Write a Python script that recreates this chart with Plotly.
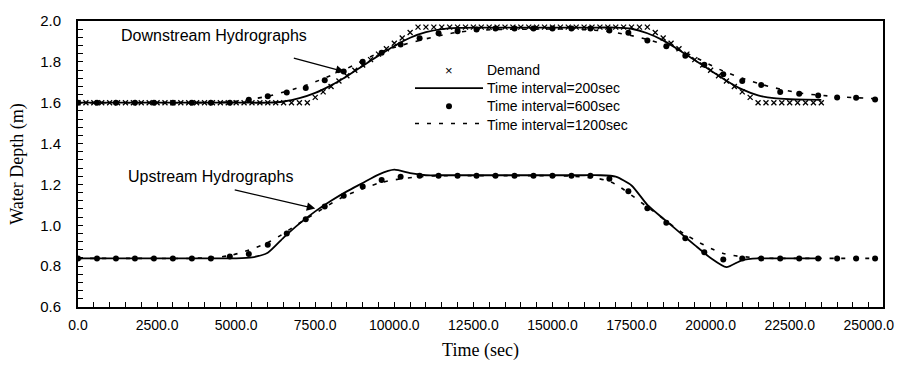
import plotly.graph_objects as go

# ---------------- data ----------------
# Demand (downstream), sampled every 250 s
demand_t = [0, 250, 500, 750, 1000, 1250, 1500, 1750, 2000, 2250, 2500, 2750, 3000, 3250,
            3500, 3750, 4000, 4250, 4500, 4750, 5000, 5250, 5500, 5750, 6000, 6250, 6500,
            6750, 7000, 7250, 7500, 7750, 8000, 8250, 8500, 8750, 9000, 9250, 9500, 9750,
            10000, 10250, 10500, 10750, 11000, 11250, 11500, 11750, 12000, 12250, 12500,
            12750, 13000, 13250, 13500, 13750, 14000, 14250, 14500, 14750, 15000, 15250,
            15500, 15750, 16000, 16250, 16500, 16750, 17000, 17250, 17500, 17750, 18000,
            18250, 18500, 18750, 19000, 19250, 19500, 19750, 20000, 20250, 20500, 20750,
            21000, 21250, 21500, 21750, 22000, 22250, 22500, 22750, 23000, 23250, 23500]
demand_y = [1.60, 1.60, 1.60, 1.60, 1.60, 1.60, 1.60, 1.60, 1.60, 1.60, 1.60, 1.60, 1.60, 1.60,
            1.60, 1.60, 1.60, 1.60, 1.60, 1.60, 1.60, 1.60, 1.60, 1.60, 1.60, 1.60, 1.60,
            1.60, 1.60, 1.60, 1.626, 1.653, 1.679, 1.706, 1.732, 1.759, 1.785, 1.811, 1.838, 1.864,
            1.891, 1.917, 1.944, 1.970, 1.97, 1.97, 1.97, 1.97, 1.97, 1.97, 1.97,
            1.97, 1.97, 1.97, 1.97, 1.97, 1.97, 1.97, 1.97, 1.97, 1.97, 1.97,
            1.97, 1.97, 1.97, 1.97, 1.97, 1.97, 1.97, 1.97, 1.97, 1.97, 1.97,
            1.944, 1.917, 1.891, 1.864, 1.838, 1.811, 1.785, 1.759, 1.732, 1.706, 1.679,
            1.653, 1.626, 1.600, 1.60, 1.60, 1.60, 1.60, 1.60, 1.60, 1.60, 1.60]

# Time interval = 200 sec (solid lines), every 500 s
t200 = [0, 500, 1000, 1500, 2000, 2500, 3000, 3500, 4000, 4500, 5000, 5500, 6000, 6500,
        7000, 7500, 8000, 8500, 9000, 9500, 10000, 10500, 11000, 11500, 12000, 12500,
        13000, 13500, 14000, 14500, 15000, 15500, 16000, 16500, 17000, 17500, 18000,
        18500, 19000, 19500, 20000, 20500, 21000, 21500, 22000, 22500, 23000, 23500]
down200 = [1.60, 1.60, 1.60, 1.60, 1.60, 1.60, 1.60, 1.60, 1.60, 1.60, 1.60, 1.60, 1.60, 1.606,
           1.622, 1.648, 1.685, 1.730, 1.780, 1.830, 1.878, 1.918, 1.945, 1.960, 1.966, 1.968,
           1.968, 1.968, 1.968, 1.968, 1.968, 1.968, 1.968, 1.968, 1.968, 1.962, 1.940,
           1.905, 1.858, 1.808, 1.758, 1.708, 1.665, 1.636, 1.622, 1.617, 1.615, 1.614]
up200 = [0.838, 0.838, 0.838, 0.838, 0.838, 0.838, 0.838, 0.838, 0.838, 0.838, 0.838, 0.843, 0.866, 0.940,
         1.008, 1.068, 1.120, 1.166, 1.207, 1.248, 1.272, 1.255, 1.245, 1.245, 1.245, 1.245,
         1.245, 1.245, 1.245, 1.245, 1.245, 1.245, 1.245, 1.245, 1.238, 1.195, 1.100,
         1.033, 0.968, 0.903, 0.840, 0.795, 0.830, 0.838, 0.838, 0.838, 0.838, 0.838]

# Time interval = 600 sec (dots)
t600 = [0, 600, 1200, 1800, 2400, 3000, 3600, 4200, 4800, 5400, 6000, 6600, 7200, 7800,
        8400, 9000, 9600, 10200, 10800, 11400, 12000, 12600, 13200, 13800, 14400, 15000,
        15600, 16200, 16800, 17400, 18000, 18600, 19200, 19800, 20400, 21000, 21600,
        22200, 22800, 23400, 24000, 24600, 25200]
down600 = [1.60, 1.60, 1.60, 1.60, 1.60, 1.60, 1.60, 1.60, 1.60, 1.615, 1.632, 1.650, 1.672, 1.710,
           1.753, 1.800, 1.845, 1.885, 1.915, 1.940, 1.950, 1.958, 1.963, 1.963, 1.963, 1.963,
           1.963, 1.963, 1.953, 1.943, 1.905, 1.877, 1.830, 1.786, 1.739, 1.706, 1.687,
           1.653, 1.644, 1.635, 1.625, 1.624, 1.616]
up600 = [0.838, 0.838, 0.838, 0.838, 0.838, 0.838, 0.838, 0.838, 0.847, 0.860, 0.905, 0.960, 1.030, 1.092,
         1.145, 1.190, 1.222, 1.238, 1.243, 1.243, 1.243, 1.243, 1.243, 1.243, 1.243, 1.243,
         1.243, 1.243, 1.228, 1.167, 1.083, 1.013, 0.937, 0.868, 0.832, 0.838, 0.838,
         0.838, 0.838, 0.838, 0.838, 0.838, 0.838]

# Time interval = 1200 sec (dashed lines)
t1200 = [0, 1200, 2400, 3600, 4800, 6000, 7200, 8400, 9600, 10800, 12000, 13200, 14400,
         15600, 16800, 18000, 19200, 20400, 21600, 22800, 24000, 25200]
down1200 = [1.60, 1.60, 1.60, 1.60, 1.604, 1.632, 1.685, 1.760, 1.850, 1.905, 1.945, 1.958, 1.960,
            1.960, 1.948, 1.910, 1.845, 1.755, 1.690, 1.648, 1.630, 1.620]
up1200 = [0.838, 0.838, 0.838, 0.838, 0.852, 0.915, 1.030, 1.140, 1.210, 1.238, 1.243, 1.243, 1.243,
          1.240, 1.215, 1.090, 0.955, 0.862, 0.840, 0.838, 0.838, 0.838]

x_ticks = [0, 2500, 5000, 7500, 10000, 12500, 15000, 17500, 20000, 22500, 25000]
y_ticks = [0.6, 0.8, 1.0, 1.2, 1.4, 1.6, 1.8, 2.0]

legend_labels = ["Demand", "Time interval=200sec", "Time interval=600sec", "Time interval=1200sec"]

# ---------------- figure ----------------
BLACK = "#000000"
fig = go.Figure()

# Demand markers
fig.add_trace(go.Scatter(x=demand_t, y=demand_y, mode="markers", name=legend_labels[0],
                         marker=dict(symbol="x-thin", size=5, color=BLACK,
                                     line=dict(color=BLACK, width=1.3)),
                         showlegend=False))
# 200 sec solid lines
for ys in (down200, up200):
    fig.add_trace(go.Scatter(x=t200, y=ys, mode="lines", name=legend_labels[1],
                             line=dict(color=BLACK, width=1.8, shape="spline", smoothing=0.6),
                             showlegend=False))
# 600 sec dots
for ys in (down600, up600):
    fig.add_trace(go.Scatter(x=t600, y=ys, mode="markers", name=legend_labels[2],
                             marker=dict(symbol="circle", size=6, color=BLACK),
                             showlegend=False))
# 1200 sec dashed lines
for ys in (down1200, up1200):
    fig.add_trace(go.Scatter(x=t1200, y=ys, mode="lines", name=legend_labels[3],
                             line=dict(color=BLACK, width=1.6, dash="4px,8px",
                                       shape="spline", smoothing=0.8),
                             showlegend=False))

# Plot-area geometry in pixels (for legend placement in paper units)
L, R, T, B = 78, 883, 12, 307
W, H = 909, 385
def px(xp):
    return (xp - L) / (R - L)
def py(yp):
    return (B - yp) / (B - T)

LEG_SIZE = 14
LINE_H = 1.3 * LEG_SIZE
LEG_TOP = 52.0
row_y = [LEG_TOP + 1 + LINE_H * (k + 0.5) for k in range(4)]

legend_font = dict(family="Liberation Sans, Arial, sans-serif", size=LEG_SIZE, color=BLACK)
annotations = []
shapes = []

# Legend text block (single multi-line text)
annotations.append(dict(xref="paper", yref="paper", x=px(485), y=py(LEG_TOP),
                        text="<br>".join(legend_labels), align="left",
                        showarrow=False, font=legend_font, xanchor="left", yanchor="top"))
# Legend samples
annotations.append(dict(xref="paper", yref="paper", x=px(449), y=py(row_y[0] + 1), text="×",
                        showarrow=False, font=dict(family="Liberation Sans", size=13, color=BLACK),
                        xanchor="center", yanchor="middle"))
shapes.append(dict(type="line", xref="paper", yref="paper", x0=px(415), x1=px(483),
                   y0=py(row_y[1] + 1), y1=py(row_y[1] + 1), line=dict(color=BLACK, width=1.8)))
shapes.append(dict(type="circle", xref="paper", yref="paper", xsizemode="pixel", ysizemode="pixel",
                   xanchor=px(449), yanchor=py(row_y[2] + 1.5), x0=-3, x1=3, y0=-3, y1=3,
                   fillcolor=BLACK, line=dict(color=BLACK, width=0)))
shapes.append(dict(type="line", xref="paper", yref="paper", x0=px(415), x1=px(483),
                   y0=py(row_y[3] + 1), y1=py(row_y[3] + 1), line=dict(color=BLACK, width=1.6, dash="4px,8px")))

# Hydrograph labels with arrows
label_font = dict(family="Liberation Sans, Arial, sans-serif", size=16, color=BLACK)
annotations.append(dict(xref="x", yref="y", x=4300, y=1.93, text="Downstream Hydrographs",
                        showarrow=False, font=label_font, xanchor="center", yanchor="middle"))
annotations.append(dict(xref="x", yref="y", x=8420, y=1.752, text="", showarrow=True,
                        ax=-52, ay=-14,
                        arrowhead=2, arrowsize=1.3, arrowwidth=1.3, arrowcolor=BLACK))
annotations.append(dict(xref="x", yref="y", x=4200, y=1.24, text="Upstream Hydrographs",
                        showarrow=False, font=label_font, xanchor="center", yanchor="middle"))
annotations.append(dict(xref="x", yref="y", x=7500, y=1.082, text="", showarrow=True,
                        ax=-82, ay=-19,
                        arrowhead=2, arrowsize=1.3, arrowwidth=1.3, arrowcolor=BLACK))

fig.update_layout(
    width=W, height=H,
    margin=dict(l=L, r=W - R, t=T, b=H - B, pad=0),
    paper_bgcolor="white", plot_bgcolor="white",
    showlegend=False,
    annotations=annotations,
    shapes=shapes,
)

tick_font = dict(family="Liberation Sans, Arial, sans-serif", size=14, color=BLACK)
title_font = dict(family="Liberation Serif, Times New Roman, serif", size=18, color=BLACK)

fig.update_xaxes(
    range=[0, 25450], tickvals=x_ticks, ticktext=[f"{v:.1f}" for v in x_ticks],
    ticks="inside", ticklen=5, tickwidth=1.2, tickcolor=BLACK,
    minor=dict(dtick=500, tick0=0, ticks="inside", ticklen=5, tickwidth=1.2, tickcolor=BLACK),
    showline=True, linecolor=BLACK, linewidth=2, mirror=True,
    showgrid=False, zeroline=False, tickfont=tick_font, ticklabelstandoff=4,
    title=dict(text="Time (sec)", font=title_font, standoff=12),
)
fig.update_yaxes(
    range=[0.6, 2.0], tickvals=y_ticks, ticktext=[f"{v:.1f}" for v in y_ticks],
    ticks="inside", ticklen=5, tickwidth=1.2, tickcolor=BLACK,
    minor=dict(dtick=0.04, tick0=0.6, ticks="inside", ticklen=5, tickwidth=1.2, tickcolor=BLACK),
    showline=True, linecolor=BLACK, linewidth=2, mirror=True,
    showgrid=False, zeroline=False, tickfont=dict(family="Liberation Sans, Arial, sans-serif", size=15, color=BLACK),
    ticklabelstandoff=12,
    title=dict(text="Water Depth (m)", font=title_font, standoff=12),
)

fig.write_html("out.html")
